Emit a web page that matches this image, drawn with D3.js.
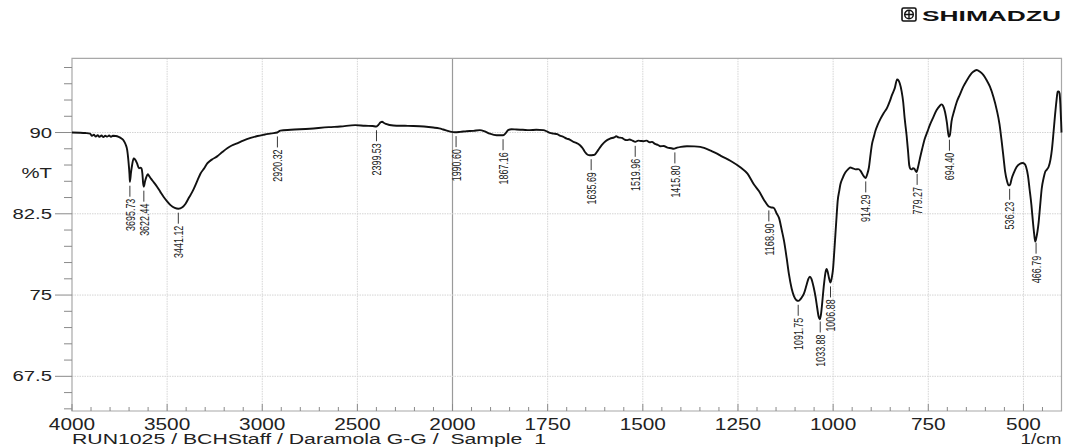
<!DOCTYPE html>
<html lang="en">
<head>
<meta charset="UTF-8">
<title>FTIR spectrum</title>
<style>
body { margin: 0; background: #fff; }
svg { display: block; font-family: "Liberation Sans", Arial, sans-serif; }
.grid { stroke: #d4d4d4; stroke-width: 1; stroke-dasharray: 1.5,1; }
.grid-2000 { stroke: #9a9a9a; stroke-width: 1.2; }
.frame { stroke: #a8a8a8; stroke-width: 1.2; fill: none; }
.tick { stroke: #8a8a8a; stroke-width: 1; }
.spectrum { fill: none; stroke: #111; stroke-width: 1.9; stroke-linejoin: round; }
.leader { stroke: #222; stroke-width: 0.9; }
.peak-label { font-size: 13px; fill: #222; }
</style>
</head>
<body>
<div class="g-chart-container"></div>
<script src="https://d3js.org/d3.v7.min.js"></script>
<script>
// spectrum (1/cm, %T)
var wavenumbers = [4000, 3960, 3930, 3905, 3895, 3885, 3875, 3865, 3855, 3845, 3835, 3825, 3815, 3805, 3795, 3785, 3770, 3755, 3740, 3728, 3718, 3710, 3703, 3698, 3695.7, 3690, 3684, 3676, 3668, 3658, 3648, 3640, 3635, 3630, 3626, 3622.4, 3616, 3609, 3602, 3595, 3585, 3570, 3553, 3535, 3518, 3500, 3482, 3460, 3441, 3420, 3404, 3385, 3370, 3360, 3340, 3325, 3305, 3289, 3265, 3237, 3210, 3184, 3160, 3132, 3100, 3061, 3025, 2991, 2950, 2921, 2905, 2850, 2750, 2650, 2590, 2512, 2460, 2420, 2402, 2390, 2378, 2370, 2362, 2350, 2311, 2250, 2206, 2150, 2101, 2070, 2049, 2025, 2005, 1994, 1980, 1963, 1945, 1928, 1915, 1902, 1884, 1867, 1860, 1854, 1845, 1832, 1815, 1797, 1780, 1761, 1752, 1744, 1735, 1725, 1718, 1710, 1700, 1692, 1682, 1675, 1665, 1658, 1652, 1645, 1639, 1630, 1625, 1617, 1608, 1598, 1586, 1575, 1570, 1564, 1555, 1548, 1542, 1535, 1527, 1520, 1512, 1505, 1498, 1490, 1482, 1476, 1468, 1460, 1454, 1445, 1435, 1425, 1419, 1410, 1400, 1384, 1365, 1349, 1320, 1305, 1295, 1270, 1243, 1225, 1208, 1195, 1182, 1170, 1164, 1156, 1148, 1142, 1135, 1129, 1122, 1116, 1109, 1103, 1097, 1091, 1084, 1077, 1070, 1065, 1061, 1057, 1051, 1046, 1042, 1038, 1035, 1032, 1029, 1026, 1023, 1020, 1017, 1014, 1011, 1007, 1003, 1000, 997, 994, 991, 988, 984, 981, 975, 968, 961, 955, 948, 941, 934, 928, 922, 915, 910, 906, 902, 898, 893, 889, 883, 876, 867, 858, 851, 845, 838, 832, 828, 825, 820, 816, 812, 807, 803, 800, 797, 794, 790, 787, 784, 781, 777, 772, 766, 759, 752, 746, 737, 728, 720, 715, 711, 706, 701, 696, 693, 689, 682, 675, 667, 658, 649, 640, 632, 623, 614, 605, 597, 588, 579, 570, 563, 557, 552, 548, 543, 539, 535, 531, 525, 518, 510, 502, 497, 493, 488, 484, 479, 475, 472, 469, 466, 463, 460, 456, 452, 447, 443, 438, 434, 429, 425, 421, 417, 413, 410, 407, 405, 403, 401, 400];
var transmittance = [90.0, 89.98, 89.95, 89.9, 89.7, 89.8, 89.62, 89.75, 89.6, 89.72, 89.58, 89.7, 89.62, 89.72, 89.6, 89.7, 89.68, 89.6, 89.45, 89.25, 88.9, 88.4, 87.3, 86.2, 85.45, 86.3, 87.0, 87.6, 87.5, 87.15, 86.7, 86.75, 86.7, 86.2, 85.3, 85.0, 85.5, 85.9, 86.15, 86.0, 85.75, 85.4, 85.0, 84.5, 84.05, 83.65, 83.3, 83.05, 82.97, 83.1, 83.4, 84.0, 84.45, 84.8, 85.6, 86.2, 86.7, 87.15, 87.5, 87.8, 88.2, 88.55, 88.8, 89.0, 89.25, 89.5, 89.68, 89.8, 89.92, 90.0, 90.18, 90.25, 90.35, 90.5, 90.55, 90.68, 90.62, 90.6, 90.55, 90.7, 90.95, 91.0, 90.9, 90.8, 90.65, 90.62, 90.6, 90.55, 90.46, 90.38, 90.28, 90.15, 90.06, 90.03, 90.06, 90.12, 90.15, 90.22, 90.1, 89.9, 89.75, 89.75, 89.95, 90.22, 90.3, 90.28, 90.25, 90.22, 90.25, 90.22, 90.1, 89.97, 89.9, 89.85, 89.72, 89.62, 89.44, 89.35, 89.14, 89.05, 88.83, 88.55, 88.2, 87.95, 87.9, 87.92, 88.0, 88.4, 88.83, 89.2, 89.44, 89.55, 89.65, 89.55, 89.5, 89.35, 89.3, 89.35, 89.25, 89.14, 89.25, 89.22, 89.2, 89.25, 89.1, 89.14, 88.95, 88.85, 88.73, 88.75, 88.6, 88.55, 88.5, 88.6, 88.68, 88.73, 88.72, 88.67, 88.3, 88.06, 87.85, 87.4, 86.77, 86.2, 85.2, 84.6, 83.8, 83.2, 83.1, 83.05, 82.5, 82.1, 81.0, 80.0, 78.4, 76.9, 75.6, 74.9, 74.55, 74.46, 74.7, 75.1, 75.9, 76.5, 76.7, 76.5, 75.7, 74.8, 73.85, 73.0, 72.77, 73.2, 74.15, 75.3, 76.3, 77.1, 77.4, 77.1, 76.6, 76.15, 76.7, 77.5, 79.0, 80.6, 82.2, 83.7, 84.6, 85.2, 85.8, 86.3, 86.6, 86.77, 86.7, 86.6, 86.62, 86.46, 86.1, 85.8, 86.2, 86.77, 87.9, 88.9, 89.6, 90.15, 90.7, 91.23, 91.8, 92.3, 92.9, 93.5, 94.1, 94.9, 94.8, 94.54, 93.8, 92.84, 91.3, 89.75, 88.2, 86.98, 86.65, 86.6, 86.7, 86.67, 86.5, 86.36, 86.8, 87.6, 88.5, 89.44, 90.1, 90.68, 91.4, 92.07, 92.45, 92.6, 92.45, 91.9, 90.9, 89.6, 89.8, 91.0, 92.0, 92.84, 93.5, 94.23, 94.8, 95.3, 95.6, 95.77, 95.6, 95.3, 94.85, 94.23, 93.3, 92.07, 90.8, 89.14, 87.6, 86.36, 85.5, 85.12, 85.2, 85.74, 86.3, 86.82, 87.1, 87.19, 87.1, 86.82, 86.0, 84.81, 83.3, 81.73, 80.7, 79.94, 80.3, 80.9, 81.73, 83.3, 84.81, 85.8, 86.36, 86.6, 86.82, 87.5, 88.5, 90.0, 91.6, 93.0, 93.77, 93.8, 93.6, 92.6, 91.0, 90.0];

var peakPositions = [3695.73, 3622.44, 3441.12, 2920.32, 2399.53, 1990.60, 1867.16, 1635.69, 1519.96, 1415.80, 1168.90, 1091.75, 1033.88, 1006.88, 914.29, 779.27, 694.40, 536.23, 466.79];
var peakLabels = ["3695.73", "3622.44", "3441.12", "2920.32", "2399.53", "1990.60", "1867.16", "1635.69", "1519.96", "1415.80", "1168.90", "1091.75", "1033.88", "1006.88", "914.29", "779.27", "694.40", "536.23", "466.79"];

var xTicks = [4000, 3500, 3000, 2500, 2000, 1750, 1500, 1250, 1000, 750, 500];
var yTicks = [67.5, 75, 82.5, 90];
var yTickLabels = ["67.5", "75", "82.5", "90"];

var W = 1079, H = 448;
var pLeft = 72, pRight = 1061.5, pTop = 58.3, pBottom = 411;

var svg = d3.select(".g-chart-container").append("svg")
    .attr("width", W)
    .attr("height", H);

// the x axis is split: 4000-2000 at half the scale of 2000-400
var x = d3.scaleLinear()
    .domain([4000, 2000, 400])
    .range([pLeft, 452.5, pRight]);

var y = d3.scaleLinear()
    .domain([64.3, 96.85])
    .range([pBottom, pTop]);

function stretch(sel, f) {
    sel.each(function() {
        var len = this.getComputedTextLength();
        d3.select(this).attr("textLength", len * f).attr("lengthAdjust", "spacingAndGlyphs");
    });
}

// grid
svg.selectAll(".vgrid")
    .data(xTicks.filter(function(d) { return d != 4000; }))
    .enter().append("line")
        .attr("class", function(d) { return d == 2000 ? "grid-2000" : "grid"; })
        .attr("x1", function(d) { return x(d); })
        .attr("x2", function(d) { return x(d); })
        .attr("y1", pTop)
        .attr("y2", pBottom);

svg.selectAll(".hgrid")
    .data(yTicks)
    .enter().append("line")
        .attr("class", "grid")
        .attr("x1", pLeft)
        .attr("x2", pRight)
        .attr("y1", function(d) { return y(d); })
        .attr("y2", function(d) { return y(d); });

// frame
svg.append("path")
    .attr("class", "frame")
    .attr("d", "M" + pLeft + "," + pBottom + "V" + pTop + "H" + pRight + "V" + pBottom + "Z");

// y ticks (outside, to the left)
var yMinor = d3.range(64.5, 96.85, 1.5);
svg.selectAll(".ytick")
    .data(yMinor)
    .enter().append("line")
        .attr("class", "tick")
        .attr("x1", function(d) { return yTicks.indexOf(d) >= 0 ? pLeft - 17 : pLeft - 8; })
        .attr("x2", pLeft)
        .attr("y1", function(d) { return y(d); })
        .attr("y2", function(d) { return y(d); });

// x ticks (inside, pointing up)
var xMinor = d3.range(4000, 2000, -100).concat(d3.range(2000, 400, -50));
svg.selectAll(".xtick")
    .data(xMinor)
    .enter().append("line")
        .attr("class", "tick")
        .attr("x1", function(d) { return x(d); })
        .attr("x2", function(d) { return x(d); })
        .attr("y1", pBottom)
        .attr("y2", function(d) { return xTicks.indexOf(d) >= 0 ? pBottom - 7 : pBottom - 4; });

// tick labels
svg.selectAll(".ylab")
    .data(yTicks)
    .enter().append("text")
        .attr("x", 52)
        .attr("y", function(d) { return y(d) + 5; })
        .attr("text-anchor", "end")
        .attr("font-size", 14)
        .attr("fill", "#222")
        .text(function(d, i) { return yTickLabels[i]; })
        .call(stretch, 1.45);

svg.append("text")
    .attr("x", 52)
    .attr("y", 178)
    .attr("text-anchor", "end")
    .attr("font-size", 14)
    .attr("fill", "#222")
    .text("%T")
    .call(stretch, 1.45);

svg.selectAll(".xlab")
    .data(xTicks)
    .enter().append("text")
        .attr("x", function(d) { return x(d); })
        .attr("y", 430)
        .attr("text-anchor", "middle")
        .attr("font-size", 16)
        .attr("fill", "#222")
        .text(function(d) { return d; })
        .call(stretch, 1.3);

svg.append("text")
    .attr("x", pLeft)
    .attr("y", 444)
    .attr("font-size", 14)
    .attr("fill", "#222")
    .style("white-space", "pre")
    .text("RUN1025 / BCHStaff / Daramola G-G /  Sample  1")
    .attr("textLength", 474)
    .attr("lengthAdjust", "spacingAndGlyphs");

svg.append("text")
    .attr("x", pRight)
    .attr("y", 444)
    .attr("text-anchor", "end")
    .attr("font-size", 14)
    .attr("fill", "#222")
    .text("1/cm")
    .call(stretch, 1.35);

// spectrum
var pts = wavenumbers.map(function(d, i) { return [d, transmittance[i]]; });

var lineGenerator = d3.line()
    .x(function(d) { return x(d[0]); })
    .y(function(d) { return y(d[1]); })
    .curve(d3.curveMonotoneX);

svg.append("path")
    .datum(pts)
    .attr("class", "spectrum")
    .attr("d", lineGenerator);

// peak picks
function tAt(wn) {
    for (var i = 1; i < wavenumbers.length; i++) {
        if (wavenumbers[i] <= wn) {
            var a = wavenumbers[i - 1], b = wavenumbers[i];
            var t = (a - wn) / (a - b);
            return transmittance[i - 1] + t * (transmittance[i] - transmittance[i - 1]);
        }
    }
    return transmittance[transmittance.length - 1];
}

var peaks = svg.selectAll(".peak")
    .data(peakPositions)
    .enter().append("g")
        .attr("class", "peak")
        .attr("transform", function(d) { return "translate(" + x(d) + "," + y(tAt(d)) + ")"; });

peaks.append("line")
    .attr("class", "leader")
    .attr("x1", 0).attr("x2", 0)
    .attr("y1", 4).attr("y2", 15);

peaks.append("text")
    .attr("class", "peak-label")
    .attr("transform", "translate(0,17) rotate(-90)")
    .attr("text-anchor", "end")
    .attr("dy", "0.36em")
    .text(function(d, i) { return peakLabels[i]; })
    .attr("textLength", function(d, i) { return peakLabels[i].length * 4.6; })
    .attr("lengthAdjust", "spacingAndGlyphs");

// maker logo
var logo = svg.append("g").attr("transform", "translate(902,8)");
logo.append("rect")
    .attr("width", 14).attr("height", 13).attr("rx", 1.5)
    .attr("fill", "none").attr("stroke", "#111").attr("stroke-width", 1.6);
logo.append("circle")
    .attr("cx", 7).attr("cy", 6.5).attr("r", 4.3)
    .attr("fill", "none").attr("stroke", "#111").attr("stroke-width", 1.4);
logo.append("path")
    .attr("d", "M7,2.2V10.8M2.7,6.5H11.3")
    .attr("stroke", "#111").attr("stroke-width", 1.4);
logo.append("text")
    .attr("x", 20)
    .attr("y", 12.5)
    .attr("font-size", 14)
    .attr("font-weight", "900")
    .attr("fill", "#111")
    .text("SHIMADZU")
    .attr("textLength", 139)
    .attr("lengthAdjust", "spacingAndGlyphs");
</script>
</body>
</html>
